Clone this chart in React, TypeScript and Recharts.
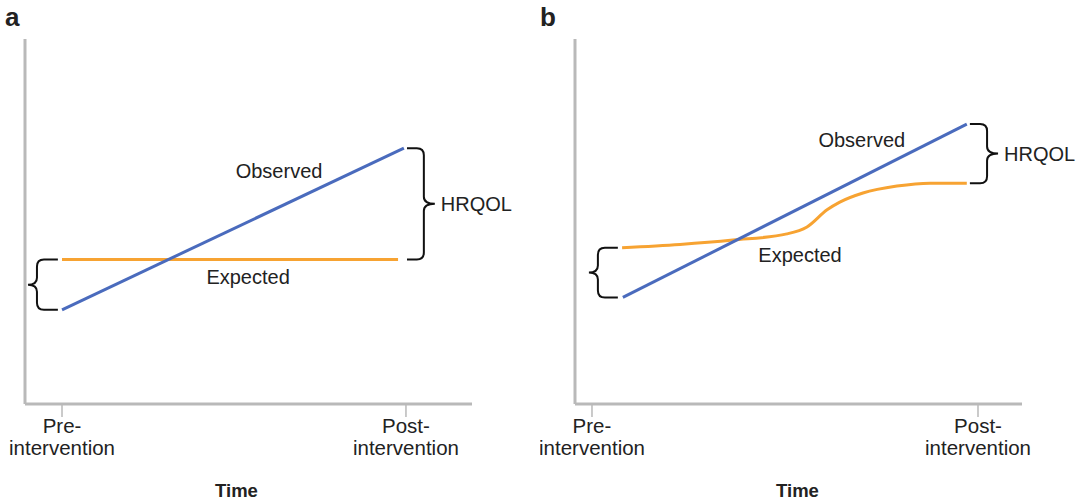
import React from 'react';
import { LineChart, Line, XAxis, YAxis, ReferenceArea, ReferenceDot } from 'recharts';

// time runs 0 (pre-intervention) -> 1 (post-intervention); HRQOL on a 0-100 scale
const TICKS = [0, 1];
const TICK_LABELS: Record<number, string[]> = {
    0: ['Pre-', 'intervention'],
    1: ['Post-', 'intervention'],
};

// panel a
const expectedA = [{ t: 0, v: 39.6 }, { t: 0.977, v: 39.6 }];
const observedA = [{ t: 0, v: 25.8 }, { t: 0.994, v: 70.1 }];

// panel b
const expectedB = [
    { t: 0.078, v: 42.8 }, { t: 0.228, v: 43.7 }, { t: 0.365, v: 44.9 },
    { t: 0.505, v: 46.6 }, { t: 0.557, v: 48.5 }, { t: 0.609, v: 53.2 },
    { t: 0.642, v: 55.3 }, { t: 0.702, v: 57.8 }, { t: 0.790, v: 59.7 },
    { t: 0.876, v: 60.5 }, { t: 0.971, v: 60.5 },
];
const observedB = [{ t: 0.080, v: 29.2 }, { t: 0.971, v: 76.7 }];

const BLUE = '#4a6bbd';
const ORANGE = '#f7a332';
const AXIS = '#b9b9b9';
const INK = '#222';
const FONT = 'Liberation Sans, Arial, sans-serif';

const tipX = (x: number, w: number, side: string) => (side === 'left' ? x : x + w);

// curly brace drawn inside the rect a ReferenceArea hands over
const Brace = ({ x, y, width, height, side, text }: any) => {
    const top = y, bot = y + height, mid = y + height / 2;
    const r = 7;
    let d: string;
    if (side === 'left') {
        const tip = x, end = x + width, xm = x + 9;
        d = `M${end},${top} L${xm + r},${top} Q${xm},${top} ${xm},${top + r} L${xm},${mid - r} Q${xm},${mid} ${tip},${mid} Q${xm},${mid} ${xm},${mid + r} L${xm},${bot - r} Q${xm},${bot} ${xm + r},${bot} L${end},${bot}`;
    } else {
        const tip = x + width, end = x, xm = tip - 11;
        d = `M${end},${top} L${xm - r},${top} Q${xm},${top} ${xm},${top + r} L${xm},${mid - r} Q${xm},${mid} ${tip},${mid} Q${xm},${mid} ${xm},${mid + r} L${xm},${bot - r} Q${xm},${bot} ${xm - r},${bot} L${end},${bot}`;
    }
    return (
        <g>
            <path d={d} fill="none" stroke="#111" strokeWidth={2} />
            {text && (
                <text x={tipX(x, width, side) + 6} y={mid + 7} fontSize={20} fontFamily={FONT} fill={INK}>{text}</text>
            )}
        </g>
    );
};

const TextMark = ({ cx, cy, value }: any) => (
    <text x={cx} y={cy + 7} textAnchor="middle" fontSize={20} fontFamily={FONT} fill={INK}>{value}</text>
);

const TimeTick = ({ x, y, payload }: any) => {
    const lines = TICK_LABELS[payload.value] || [];
    return (
        <text x={x} y={y} textAnchor="middle" fontSize={20.5} fontFamily={FONT} fill={INK}>
            {lines.map((l, i) => (
                <tspan key={i} x={x} dy={i === 0 ? 14 : 22}>{l}</tspan>
            ))}
        </text>
    );
};

const timeLabel = (shift: number) => (props: any) => {
    const vb = props.viewBox;
    return (
        <text x={vb.x + vb.width / 2 + shift} y={vb.y + 93} textAnchor="middle" fontSize={18.5} fontWeight="bold" fontFamily={FONT} fill={INK}>Time</text>
    );
};

const Panel = ({ width, margin, domain, expected, observed, curved, braces, labels, timeShift }: any) => (
    <LineChart width={width} height={500} margin={margin}>
        <XAxis
            type="number" dataKey="t" domain={domain} allowDataOverflow ticks={TICKS}
            axisLine={{ stroke: AXIS, strokeWidth: 3 }} tickLine={{ stroke: AXIS, strokeWidth: 1.5 }}
            tickSize={13} height={96} tick={<TimeTick />} label={{ content: timeLabel(timeShift) }}
        />
        <YAxis type="number" domain={[0, 100]} width={4} tick={false} tickLine={false}
            axisLine={{ stroke: AXIS, strokeWidth: 3 }} />
        <Line data={expected} dataKey="v" type={curved ? 'monotone' : 'linear'} stroke={ORANGE} strokeWidth={3} dot={false} isAnimationActive={false} />
        <Line data={observed} dataKey="v" type="linear" stroke={BLUE} strokeWidth={3} dot={false} isAnimationActive={false} />
        {braces.map((b: any, i: number) => (
            <ReferenceArea key={i} x1={b.x1} x2={b.x2} y1={b.y1} y2={b.y2}
                shape={(p: any) => <Brace {...p} side={b.side} text={b.text} />} />
        ))}
        {labels.map((l: any, i: number) => (
            <ReferenceDot key={i} x={l.t} y={l.v} r={0}
                shape={(p: any) => <TextMark {...p} value={l.text} />} />
        ))}
    </LineChart>
);

export default function App() {
    return (
        <div style={{ position: 'absolute', left: 0, top: 0, width: 1084, height: 500, background: '#fff', fontFamily: FONT }}>
            <div style={{ position: 'absolute', left: 5, top: 2, fontSize: 26, lineHeight: '30px', fontWeight: 'bold', color: INK }}>a</div>
            <div style={{ position: 'absolute', left: 540, top: 2, fontSize: 26, lineHeight: '30px', fontWeight: 'bold', color: INK }}>b</div>
            <div style={{ position: 'absolute', left: 0, top: 0 }}>
                <Panel
                    width={540} margin={{ top: 39, right: 68, bottom: 0, left: 21 }} domain={[-0.1076, 1.192]}
                    expected={expectedA} observed={observedA} curved={false} timeShift={-12}
                    braces={[
                        { x1: -0.099, x2: -0.012, y1: 25.8, y2: 39.6, side: 'left' },
                        { x1: 1.003, x2: 1.084, y1: 39.6, y2: 70.1, side: 'right', text: 'HRQOL' },
                    ]}
                    labels={[
                        { t: 0.631, v: 63.8, text: 'Observed' },
                        { t: 0.541, v: 34.8, text: 'Expected' },
                    ]}
                />
            </div>
            <div style={{ position: 'absolute', left: 540, top: 0 }}>
                <Panel
                    width={544} margin={{ top: 39, right: 62, bottom: 0, left: 31 }} domain={[-0.044, 1.114]}
                    expected={expectedB} observed={observedB} curved={true} timeShift={-1}
                    braces={[
                        { x1: -0.008, x2: 0.067, y1: 29.2, y2: 42.8, side: 'left' },
                        { x1: 0.979, x2: 1.052, y1: 60.5, y2: 76.7, side: 'right', text: 'HRQOL' },
                    ]}
                    labels={[
                        { t: 0.699, v: 72.3, text: 'Observed' },
                        { t: 0.539, v: 40.8, text: 'Expected' },
                    ]}
                />
            </div>
        </div>
    );
}
